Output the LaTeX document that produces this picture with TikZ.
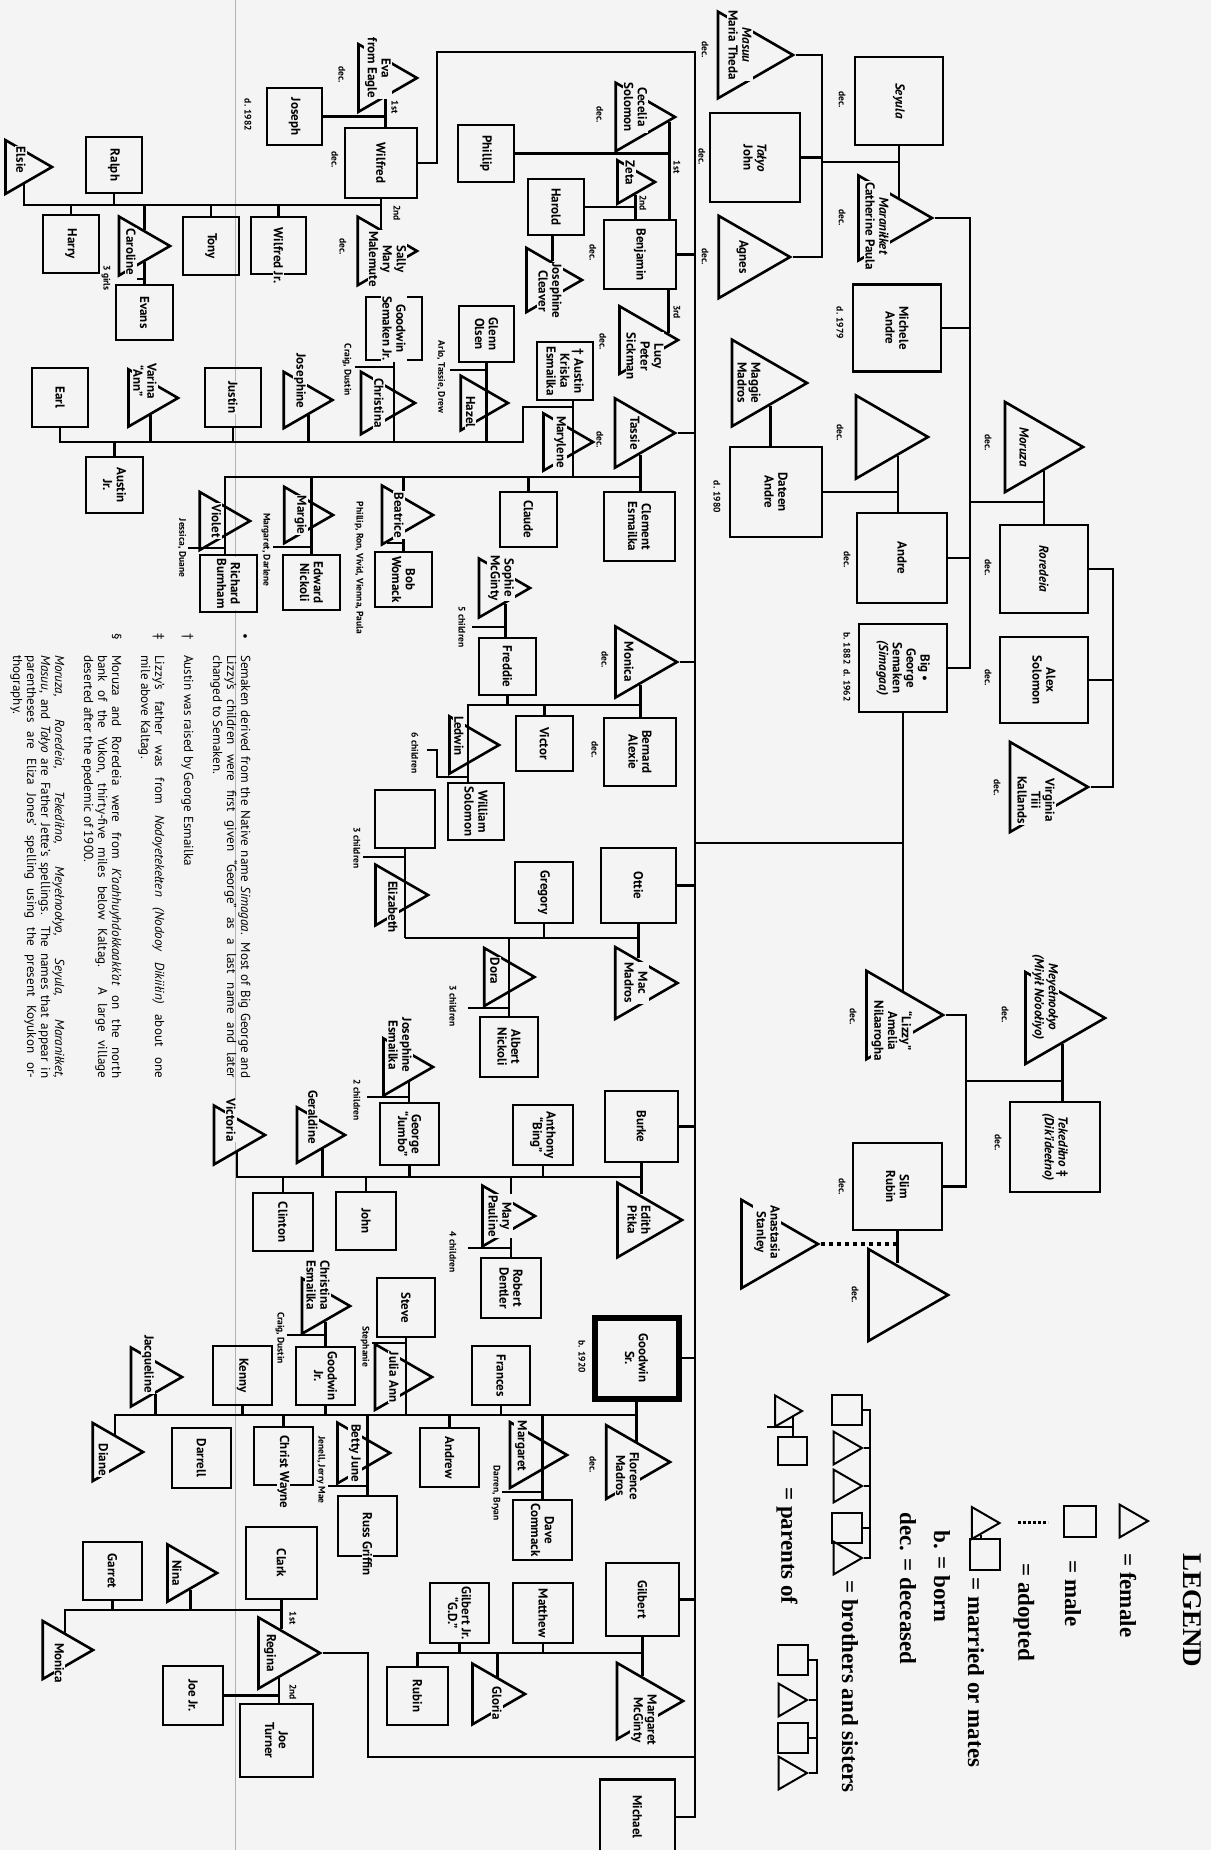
\documentclass[tikz,border=0pt]{standalone}
\usepackage{fontspec}
\setmainfont{PT Sans}
\newfontfamily\legserif{Liberation Serif}
\usetikzlibrary{shapes.geometric}
\pgfdeclarelayer{back}
\pgfsetlayers{back,main}
\definecolor{paper}{gray}{0.955}
\newcommand\namefont{\fontsize{13}{13.8}\selectfont\bfseries}
\newcommand\notefont{\fontsize{9.5}{11}\selectfont\bfseries}
\newcommand\footfont{\fontsize{13.1}{14}\selectfont}
\newcommand\legfont{\legserif\fontsize{23}{26}\selectfont\bfseries}
\begin{document}
\begin{tikzpicture}
[x=1pt,y=-1pt,%
  every node/.style={inner sep=0pt},%
  mal/.style={draw,rectangle,line width=2.6pt},%
  fem/.style={draw,regular polygon,regular polygon sides=3,shape border rotate=-90,line width=2.6pt},%
  nm/.style={rotate=-90,align=center,font=\namefont,fill=paper,inner sep=1pt},%
  note/.style={rotate=-90,align=center,font=\notefont},%
  foot/.style={rotate=-90,font=\footfont},%
  leg/.style={rotate=-90,font=\legfont,anchor=west},%
  tie/.style={line width=2.6pt},%
  adopt/.style={line width=4pt,dash pattern=on 4pt off 4pt}]
\useasboundingbox (0,0) rectangle (1211,1850);
% Moruza, Roredeia and their kin
\node[fem,minimum size=104pt,label={[xshift=-7pt,nm]center:\textit{Moruza}}] (moruza) at (1031,447) {};
\node[mal,minimum width=88pt,minimum height=88pt,label={[nm]center:\textit{Roredeia}}] (roredeia) at (1044,569) {};
\node[mal,minimum width=88pt,minimum height=86pt,label={[nm]center:Alex\\Solomon}] (alex) at (1044,680) {};
\node[fem,minimum size=104pt,label={[yshift=-13pt,nm]center:Virginia\\Tiii\\Kallands}] (virginia) at (1036,787) {};
\node[fem,minimum size=106pt,label={[xshift=-7pt,yshift=21pt,nm]center:\textit{Meyełnoołyo}\\\textit{(Miyił No'oołiyo)}}] (meyel) at (1052,1018) {};
\node[mal,minimum width=90pt,minimum height=90pt,label={[nm]center:\textit{Tekediłno} ‡\\\textit{(Dik'ideełno)}}] (tekedilno) at (1055,1147) {};
\node[mal,minimum width=88pt,minimum height=88pt,label={[nm]center:\textit{Seyula}}] (seyula) at (899,101) {};
\node[fem,minimum size=98pt,label={[xshift=-6pt,yshift=-8pt,nm]center:\textit{Maraniłket}\\Catherine Paula}] (maranilket) at (883,218) {};
\node[mal,minimum width=88pt,minimum height=87pt,label={[nm]center:Michele\\Andre}] (michele) at (897,328) {};
\node[fem,minimum size=96pt] (wifeandre) at (880,437) {};
\node[mal,minimum width=90pt,minimum height=90pt,label={[nm]center:Andre}] (andre) at (902,558) {};
\node[mal,minimum width=88pt,minimum height=88pt,label={[nm]center:Big •\\George\\Semaken\\\textit{(Simagaa)}}] (biggeorge) at (903,668) {};
\node[fem,minimum size=102pt,label={[yshift=-16pt,nm]center:``Lizzy''\\Amelia\\Nilaarogha}] (lizzy) at (892,1015) {};
\node[mal,minimum width=89pt,minimum height=87pt,label={[nm]center:Slim\\Rubin}] (slim) at (897.5,1186.5) {};
\node[fem,minimum size=106pt] (wifeslim) at (895,1295) {};
\node[fem,minimum size=102pt,label={[yshift=12pt,nm]center:Anastasia\\Stanley}] (anastasia) at (767,1244) {};
\node[fem,minimum size=100pt,label={[xshift=-3pt,yshift=10pt,nm]center:\textit{Masuu}\\Maria Theda}] (masuu) at (743,55) {};
\node[mal,minimum width=90pt,minimum height=89pt,label={[nm]center:\textit{Tałyo}\\John}] (talyo) at (755,157.5) {};
\node[fem,minimum size=95pt,label={[nm]center:Agnes}] (agnes) at (742.5,257) {};
\node[fem,minimum size=100pt,label={[xshift=-8pt,nm]center:Maggie\\Madros}] (maggie) at (757,383) {};
\node[mal,minimum width=92pt,minimum height=90pt,label={[nm]center:Dateen\\Andre}] (dateen) at (776,492) {};
% Wilfred
\node[mal,minimum width=72pt,minimum height=70pt,label={[nm]center:Wilfred}] (wilfred) at (381,163) {};
\node[fem,minimum size=78pt,label={[yshift=10pt,nm]center:Eva\\from Eagle}] (eva) at (378,78) {};
\node[mal,minimum width=55pt,minimum height=57pt,label={[nm]center:Joseph}] (joseph) at (294.5,116.5) {};
\node[fem,minimum size=79pt,label={[xshift=10pt,yshift=-8pt,nm]center:Sally\\Mary\\Malemute}] (sally) at (377.5,251) {};
\node[fem,minimum size=62pt,label={[yshift=7pt,nm]center:Elsie}] (elsie) at (21,167) {};
\node[mal,minimum width=56pt,minimum height=56pt,label={[nm]center:Ralph}] (ralph) at (114,165) {};
\node[mal,minimum width=56pt,minimum height=58pt,label={[nm]center:Harry}] (harry) at (71,244) {};
\node[fem,minimum size=68pt,label={[xshift=-5pt,yshift=-6pt,nm]center:Caroline}] (caroline) at (136,246) {};
\node[mal,minimum width=57pt,minimum height=55pt,label={[nm]center:Evans}] (evans) at (144.5,312.5) {};
\node[mal,minimum width=56pt,minimum height=58pt,label={[nm]center:Tony}] (tony) at (211,246) {};
\node[mal,minimum width=55pt,minimum height=57pt,label={[yshift=-10pt,nm]center:Wilfred Jr.}] (wilfredjr) at (278.5,245.5) {};
\node[mal,minimum width=56pt,minimum height=63pt,label={[nm]center:Goodwin\\Semaken Jr.}] (goodwinsj) at (394,328.5) {};
\node[fem,minimum size=72pt,label={[nm]center:Christina}] (christina) at (379,403) {};
\node[mal,minimum width=56pt,minimum height=59pt,label={[nm]center:Earl}] (earl) at (60,397.5) {};
\node[mal,minimum width=57pt,minimum height=56pt,label={[nm]center:Austin\\Jr.}] (austinjr) at (114.5,485) {};
\node[fem,minimum size=66pt,label={[yshift=17pt,nm]center:Varina\\``Ann''}] (varina) at (145,398) {};
\node[mal,minimum width=56pt,minimum height=59pt,label={[nm]center:Justin}] (justin) at (233,397.5) {};
\node[fem,minimum size=65pt,label={[yshift=19pt,nm]center:Josephine}] (josephine) at (300,400) {};
% Benjamin
\node[mal,minimum width=72pt,minimum height=69pt,label={[nm]center:Benjamin}] (benjamin) at (640,254.5) {};
\node[fem,minimum size=79pt,label={[yshift=10pt,nm]center:Cecelia\\Solomon}] (cecelia) at (635.5,117) {};
\node[fem,minimum size=50pt,label={[yshift=9pt,nm]center:Zeta}] (zeta) at (630,182) {};
\node[fem,minimum size=78pt,label={[xshift=6pt,yshift=-16pt,nm]center:Lucy\\Peter\\Sickman}] (lucy) at (639,340) {};
\node[mal,minimum width=56pt,minimum height=57pt,label={[nm]center:Phillip}] (phillip) at (486,153.5) {};
\node[mal,minimum width=56pt,minimum height=56pt,label={[nm]center:Harold}] (harold) at (556,207) {};
\node[fem,minimum size=74pt,label={[xshift=5pt,yshift=-11pt,nm]center:Josephine\\Cleaver}] (jcleaver) at (545,280) {};
% Tassie
\node[fem,minimum size=80pt,label={[nm]center:Tassie}] (tassie) at (635,433) {};
\node[mal,minimum width=71pt,minimum height=69pt,label={[nm]center:Clement\\Esmailka}] (clement) at (639.5,526.5) {};
\node[mal,minimum width=56pt,minimum height=58pt,label={[nm]center:† Austin\\Kriska\\Esmailka}] (austin) at (565,371) {};
\node[fem,minimum size=66pt,label={[nm]center:Marylene}] (marylene) at (560,442) {};
\node[mal,minimum width=55pt,minimum height=56pt,label={[nm]center:Glenn\\Olsen}] (glenn) at (486.5,334) {};
\node[fem,minimum size=63pt,label={[xshift=-6pt,yshift=-9pt,nm]center:Hazel}] (hazel) at (476.5,403) {};
\node[mal,minimum width=57pt,minimum height=55pt,label={[nm]center:Claude}] (claude) at (528.5,519.5) {};
\node[fem,minimum size=68pt,label={[nm]center:Beatrice}] (beatrice) at (399,515) {};
\node[mal,minimum width=57pt,minimum height=55pt,label={[nm]center:Bob\\Womack}] (bob) at (403.5,579.5) {};
\node[fem,minimum size=65pt,label={[nm]center:Margie}] (margie) at (300.5,515) {};
\node[mal,minimum width=57pt,minimum height=55pt,label={[nm]center:Edward\\Nickoli}] (edward) at (311.5,582.5) {};
\node[fem,minimum size=67pt,label={[nm]center:Violet}] (violet) at (216.5,521) {};
\node[mal,minimum width=57pt,minimum height=57pt,label={[nm]center:Richard\\Burnham}] (richard) at (228.5,583.5) {};
% Monica
\node[fem,minimum size=82pt,label={[xshift=-7pt,nm]center:Monica}] (monica) at (636,662) {};
\node[mal,minimum width=72pt,minimum height=68pt,label={[nm]center:Bernard\\Alexie}] (bernard) at (640,752) {};
\node[fem,minimum size=68pt,label={[xshift=5pt,yshift=10pt,nm]center:Sophie\\McGinty}] (sophie) at (496,588) {};
\node[mal,minimum width=57pt,minimum height=57pt,label={[nm]center:Freddie}] (freddie) at (507.5,666.5) {};
\node[mal,minimum width=57pt,minimum height=55pt,label={[nm]center:Victor}] (victor) at (544.5,743.5) {};
\node[fem,minimum size=66pt,label={[xshift=-7pt,yshift=9pt,nm]center:Ledwin}] (ledwin) at (466,745) {};
\node[mal,minimum width=56pt,minimum height=57pt,label={[nm]center:William\\Solomon}] (william) at (476,811.5) {};
% Ottie
\node[mal,minimum width=75pt,minimum height=75pt,label={[nm]center:Ottie}] (ottie) at (638.5,885.5) {};
\node[fem,minimum size=83pt,label={[nm]center:Mac\\Madros}] (mac) at (636,983) {};
\node[mal,minimum width=58pt,minimum height=61pt,label={[nm]center:Gregory}] (gregory) at (544,892.5) {};
\node[mal,minimum width=60pt,minimum height=58pt] (elizhusband) at (405,819) {};
\node[fem,minimum size=70pt,label={[yshift=-12pt,nm]center:Elizabeth}] (elizabeth) at (393,895) {};
\node[fem,minimum size=67pt,label={[xshift=-6pt,yshift=6pt,nm]center:Dora}] (dora) at (501,977) {};
\node[mal,minimum width=58pt,minimum height=60pt,label={[nm]center:Albert\\Nickoli}] (albert) at (509,1047) {};
% Burke
\node[mal,minimum width=73pt,minimum height=71pt,label={[nm]center:Burke}] (burke) at (641.5,1126.5) {};
\node[fem,minimum size=86pt,label={[nm]center:Edith\\Pitka}] (edith) at (639,1220) {};
\node[mal,minimum width=60pt,minimum height=60pt,label={[nm]center:Anthony\\``Bing''}] (anthony) at (543,1135) {};
\node[fem,minimum size=66pt,label={[yshift=22pt,nm]center:Josephine\\Esmailka}] (jesmailka) at (400,1067) {};
\node[mal,minimum width=59pt,minimum height=62pt,label={[nm]center:George\\``Jumbo''}] (george) at (409.5,1134) {};
\node[fem,minimum size=70pt,label={[nm]center:Mary\\Pauline}] (marypauline) at (500,1216) {};
\node[mal,minimum width=60pt,minimum height=60pt,label={[nm]center:Robert\\Dentler}] (robert) at (511,1288) {};
\node[mal,minimum width=60pt,minimum height=58pt,label={[nm]center:John}] (john) at (366,1221) {};
\node[mal,minimum width=60pt,minimum height=58pt,label={[nm]center:Clinton}] (clinton) at (283,1222) {};
\node[fem,minimum size=64pt,label={[yshift=18pt,nm]center:Geraldine}] (geraldine) at (313,1135) {};
\node[fem,minimum size=68pt,label={[yshift=15pt,nm]center:Victoria}] (victoria) at (231,1135) {};
% Goodwin Sr.
\node[mal,line width=6pt,minimum width=84pt,minimum height=81pt,label={[nm]center:Goodwin\\Sr.}] (goodwinsr) at (636.5,1358) {};
\node[fem,minimum size=85pt,label={[yshift=-14pt,nm]center:Florence\\Madros}] (florence) at (627.5,1462) {};
\node[mal,minimum width=58pt,minimum height=59pt,label={[nm]center:Frances}] (frances) at (501,1375.5) {};
\node[mal,minimum width=59pt,minimum height=59pt,label={[nm]center:Andrew}] (andrew) at (449.5,1457.5) {};
\node[fem,minimum size=76pt,label={[xshift=-8pt,yshift=9pt,nm]center:Margaret}] (margaret) at (529,1455) {};
\node[mal,minimum width=59pt,minimum height=60pt,label={[nm]center:Dave\\Commack}] (dave) at (542.5,1530) {};
\node[mal,minimum width=58pt,minimum height=59pt,label={[nm]center:Steve}] (steve) at (406,1307.5) {};
\node[fem,minimum size=76pt,label={[nm]center:Julia Ann}] (julia) at (394,1377) {};
\node[mal,minimum width=59pt,minimum height=58pt,label={[nm]center:Goodwin\\Jr.}] (goodwinjr) at (325.5,1376) {};
\node[fem,minimum size=64pt,label={[yshift=21pt,nm]center:Christina\\Esmailka}] (christinae) at (318,1306) {};
\node[mal,minimum width=59pt,minimum height=59pt,label={[nm]center:Kenny}] (kenny) at (242.5,1375.5) {};
\node[fem,minimum size=68pt,label={[yshift=13pt,nm]center:Jacqueline}] (jacqueline) at (148,1377) {};
\node[fem,minimum size=67pt,label={[xshift=-6pt,yshift=-8pt,nm]center:Diane}] (diane) at (109.5,1452) {};
\node[mal,minimum width=59pt,minimum height=60pt,label={[nm]center:Darrell}] (darrell) at (201.5,1458) {};
\node[mal,minimum width=59pt,minimum height=58pt,label={[yshift=-16pt,nm]center:Christ Wayne}] (christwayne) at (283.5,1456) {};
\node[fem,minimum size=70pt,label={[nm]center:Betty June}] (betty) at (355,1453) {};
\node[mal,minimum width=59pt,minimum height=60pt,label={[yshift=-18pt,nm]center:Russ Griffin}] (russ) at (367.5,1526) {};
% Regina
\node[fem,minimum size=82pt,label={[xshift=-9pt,nm]center:Regina}] (regina) at (279,1653) {};
\node[mal,minimum width=71pt,minimum height=72pt,label={[nm]center:Clark}] (clark) at (281.5,1563) {};
\node[mal,minimum width=59pt,minimum height=58pt,label={[nm]center:Garret}] (garret) at (112.5,1571) {};
\node[fem,minimum size=66pt,label={[xshift=-7pt,nm]center:Nina}] (nina) at (184,1573) {};
\node[fem,minimum size=67pt,label={[yshift=-13pt,nm]center:Monica}] (monicab) at (59.5,1650) {};
\node[mal,minimum width=60pt,minimum height=59pt,label={[nm]center:Joe Jr.}] (joejr) at (193,1695.5) {};
\node[mal,minimum width=73pt,minimum height=73pt,label={[nm]center:Joe\\Turner}] (joeturner) at (276.5,1740.5) {};
% Gilbert and Michael
\node[mal,minimum width=73pt,minimum height=73pt,label={[nm]center:Gilbert}] (gilbert) at (642.5,1599.5) {};
\node[fem,minimum size=88pt,label={[xshift=5pt,yshift=-19pt,nm]center:Margaret\\McGinty}] (mmcginty) at (639,1701) {};
\node[mal,minimum width=60pt,minimum height=60pt,label={[nm]center:Matthew}] (matthew) at (543,1613) {};
\node[mal,minimum width=59pt,minimum height=60pt,label={[nm]center:Gilbert Jr.\\``G.D.''}] (gilbertjr) at (459.5,1613) {};
\node[fem,minimum size=70pt,label={[xshift=7pt,yshift=-9pt,nm]center:Gloria}] (gloria) at (490,1694) {};
\node[mal,minimum width=61pt,minimum height=58pt,label={[nm]center:Rubin}] (rubin) at (417.5,1696) {};
\node[mal,minimum width=75pt,minimum height=75pt,label={[nm]center:Michael}] (michael) at (637.5,1817) {};
% side notes
\node[note] (decmoruza) at (988,443) {dec.};
\node[note] (decroredeia) at (988,568) {dec.};
\node[note] (decalex) at (988,678) {dec.};
\node[note] (decvirginia) at (997,788) {dec.};
\node[note] (decmeyel) at (1005,1015) {dec.};
\node[note] (dectekedilno) at (998,1143) {dec.};
\node[note] (decseyula) at (842,100) {dec.};
\node[note] (decmaranilket) at (842,218) {dec.};
\node[note] (dmichele) at (840,323) {d. 1979};
\node[note] (decwifeandre) at (840,433) {dec.};
\node[note] (decandre) at (847,560) {dec.};
\node[note] (bgdates) at (847,667) {b. 1882~~d. 1962};
\node[note] (declizzy) at (853,1017) {dec.};
\node[note] (decslim) at (842,1187) {dec.};
\node[note] (decwifeslim) at (855,1295) {dec.};
\node[note] (decmasuu) at (705,50) {dec.};
\node[note] (dectalyo) at (702,157) {dec.};
\node[note] (decagnes) at (705,257) {dec.};
\node[note] (ddateen) at (717,497) {d. 1980};
\node[note] (deceva) at (342,75) {dec.};
\node[note] (decwilfred) at (335,160) {dec.};
\node[note] (djoseph) at (248,115) {d. 1982};
\node[note] (decsally) at (343,247) {dec.};
\node[note] (firsteva) at (395,107) {1st};
\node[note] (secondsally) at (397,213) {2nd};
\node[note] (threegirls) at (106,278) {3 girls};
\node[note] (craigone) at (347,370) {Craig, Dustin};
\node[note] (arlo) at (441,377) {Arlo, Tassie, Drew};
\node[note] (deccecelia) at (600,115) {dec.};
\node[note] (firstcecelia) at (677,167) {1st};
\node[note] (secondzeta) at (643,203) {2nd};
\node[note] (decbenjamin) at (593,253) {dec.};
\node[note] (thirdlucy) at (677,312) {3rd};
\node[note] (declucy) at (603,342) {dec.};
\node[note] (dectassie) at (600,440) {dec.};
\node[note] (phillipetc) at (359,568) {Phillip, Ron, Vivid, Vienna, Paula};
\node[note] (margaretetc) at (266,550) {Margaret, Darlene};
\node[note] (jessica) at (182,548) {Jessica, Duane};
\node[note] (fivekids) at (462,627) {5 children};
\node[note] (sixkids) at (415,753) {6 children};
\node[note] (decmonica) at (605,660) {dec.};
\node[note] (decbernard) at (595,750) {dec.};
\node[note] (threekidsa) at (357,848) {3 children};
\node[note] (threekidsb) at (453,1006) {3 children};
\node[note] (twokids) at (357,1100) {2 children};
\node[note] (fourkids) at (453,1252) {4 children};
\node[note] (stephanie) at (365,1347) {Stephanie};
\node[note] (craigtwo) at (280,1338) {Craig, Dustin};
\node[note] (jenell) at (321,1470) {Jenell, Jerry Mae};
\node[note] (darren) at (496,1493) {Darren, Bryan};
\node[note] (bgoodwin) at (582,1357) {b. 1920};
\node[note] (decflorence) at (593,1465) {dec.};
\node[note] (firstclark) at (293,1618) {1st};
\node[note] (secondjoe) at (293,1692) {2nd};
% footnotes
\node[foot,anchor=north west] (footnotes) at (251,633) {%
\begin{tabular}{@{}p{18pt}@{\hspace{4pt}}p{423pt}@{}}
•& Semaken derived from the Native name \textit{Simagaa}. Most of Big George and\linebreak
Lizzy's children were first given ``George'' as a last name and later\linebreak
changed to Semaken.\\[15pt]
†& Austin was raised by George Esmailka\\[15pt]
‡& Lizzy's father was from \textit{Nodoyetekełten (Nodooy Dikiiłin)} about one\linebreak
mile above Kaltag.\\[15pt]
§& Moruza and Roredeia were from \textit{K'aahhuyhdokkaakk'at} on the north\linebreak
bank of the Yukon, thirty-five miles below Kaltag. A large village\linebreak
deserted after the epedemic of 1900.\\[15pt]
& \textit{Moruza, Roredeia, Tekediłno, Meyełnoołyo, Seyula, Maraniłket,}\linebreak
\textit{Masuu}, and \textit{Tałyo} are Father Jette's spellings. The names that appear in\linebreak
parentheses are Eliza Jones' spelling using the present Koyukon or-\linebreak
thography.
\end{tabular}};
% legend
\node[leg,font=\legserif\fontsize{27}{30}\selectfont\bfseries,anchor=center] (legtitle) at (1192,1610) {LEGEND};
\node[fem,line width=2pt,minimum size=38pt] (legf) at (1129,1521) {};
\node[leg] (legfemale) at (1128,1553) {= female};
\node[mal,line width=2pt,minimum width=32pt,minimum height=31pt] (legm) at (1080,1521.5) {};
\node[leg] (legmale) at (1073,1560) {= male};
\coordinate (adoptA) at (1018,1522);
\coordinate (adoptB) at (1048,1522);
\node[leg] (legadopted) at (1024,1563) {= adopted};
\node[fem,line width=2pt,minimum size=37pt] (legmf) at (981,1523) {};
\node[mal,line width=2pt,minimum width=30pt,minimum height=31pt] (legmm) at (985,1554.5) {};
\node[leg] (legmarried) at (976,1577) {= married or mates};
\node[leg] (legborn) at (942,1530) {b. = born};
\node[leg] (legdec) at (908,1512) {dec. = deceased};
\node[mal,line width=2pt,minimum width=30pt,minimum height=30pt] (sib1) at (847,1410) {};
\node[fem,line width=2pt,minimum size=38pt] (sib2) at (843,1448) {};
\node[fem,line width=2pt,minimum size=38pt] (sib3) at (843,1486) {};
\node[mal,line width=2pt,minimum width=30pt,minimum height=30pt] (sib4) at (847,1528) {};
\node[fem,line width=2pt,minimum size=38pt] (sib5) at (843,1558) {};
\node[leg] (legsibs) at (850,1580) {= brothers and sisters};
\node[fem,line width=2pt,minimum size=36pt] (par1) at (784,1411) {};
\node[mal,line width=2pt,minimum width=29pt,minimum height=28pt] (par2) at (792.5,1451) {};
\node[leg] (legparents) at (787,1487) {= parents of};
\node[mal,line width=2pt,minimum width=30pt,minimum height=30pt] (kid1) at (793,1660) {};
\node[fem,line width=2pt,minimum size=38pt] (kid2) at (788,1700) {};
\node[mal,line width=2pt,minimum width=30pt,minimum height=30pt] (kid3) at (793,1738) {};
\node[fem,line width=2pt,minimum size=38pt] (kid4) at (788,1773) {};
% junctions
\coordinate (mrkids) at (970,502);
\coordinate (sibs) at (1113,570);
\coordinate (sykids) at (822,162);
\coordinate (trunktop) at (695,52);
\coordinate (trunkbot) at (695,1817);
\coordinate (bgkids) at (695,843);
\coordinate (wturn) at (437,52);
\coordinate (rturn) at (368,1757);
\coordinate (mtkids) at (966,1081);
\coordinate (wkids) at (24,205);
\coordinate (girls) at (137,279);
\coordinate (tkids) at (225,477);
\coordinate (violetkids) at (188,548);
\coordinate (margiekids) at (273,547);
\coordinate (beatricekids) at (387,543);
\coordinate (austinjoin) at (573,407);
\coordinate (akids) at (523,442);
\coordinate (christinakids) at (355,367);
\coordinate (hazelkids) at (450,370);
\coordinate (mokids) at (468,705);
\coordinate (sophiekids) at (472,627);
\coordinate (ledwinkids) at (437,777);
\coordinate (ledwinkidsend) at (427,750);
\coordinate (okids) at (405,938);
\coordinate (elizkids) at (363,857);
\coordinate (dorakids) at (468,1008);
\coordinate (bkids) at (237,1177);
\coordinate (georgekids) at (367,1097);
\coordinate (marykids) at (468,1248);
\coordinate (gkids) at (115,1415);
\coordinate (margaretkids) at (502,1492);
\coordinate (juliakids) at (372,1343);
\coordinate (goodwinkids) at (287,1335);
\coordinate (bettykids) at (328,1486);
\coordinate (ckids) at (65,1610);
\coordinate (gikids) at (417.5,1653);
\coordinate (sibbar) at (870,1410);
\coordinate (parkids) at (767,1427);
\coordinate (kidbar) at (817,1660);
\begin{pgfonlayer}{back}
\fill[paper] (0,0) rectangle (1211,1850);
\draw[black!30,line width=.8pt] (235,0) -- (235,1850);
% top generations
\draw[tie] (roredeia.north |- moruza.-60) -- (roredeia.north);
\draw[tie] (roredeia.north |- mrkids) -- (mrkids);
\draw[tie] (maranilket.east) -| (mrkids |- biggeorge.east) -- (biggeorge.east);
\draw[tie] (michele.east) -- (michele.east -| mrkids);
\draw[tie] (andre.east) -- (andre.east -| mrkids);
\draw[tie] (roredeia.east) -| (sibs |- virginia.east) -- (virginia.east);
\draw[tie] (alex.east) -- (alex.east -| sibs);
\draw[tie] (seyula.south) -- (seyula.south |- maranilket.50);
\draw[tie] (seyula.south |- sykids) -- (sykids);
\draw[tie] (masuu.east) -| (sykids |- agnes.east) -- (agnes.east);
\draw[tie] (talyo.east) -- (talyo.east -| sykids);
\draw[tie] (wifeandre.-46) -- (wifeandre.-46 |- andre.north);
\draw[tie] (wifeandre.-46 |- dateen.east) -- (dateen.east);
\draw[tie] (maggie.-59) -- (maggie.-59 |- dateen.north);
\draw[tie] (biggeorge.south) -- (biggeorge.south |- lizzy.64);
\draw[tie] (biggeorge.south |- bgkids) -- (bgkids);
\draw[tie] (meyel.-68) -- (meyel.-68 |- tekedilno.north);
\draw[tie] (meyel.-68 |- mtkids) -- (mtkids);
\draw[tie] (lizzy.east) -| (mtkids |- slim.east) -- (slim.east);
\draw[tie] (slim.south) -- (slim.south |- wifeslim.north);
\draw[adopt] (anastasia.east) -- (anastasia.east -| slim.south);
% the Semaken children
\draw[tie] (wilfred.east) -| (wturn) -- (trunktop) -- (trunkbot) -- (michael.east);
\draw[tie] (benjamin.east) -- (benjamin.east -| trunktop);
\draw[tie] (tassie.east) -- (tassie.east -| trunktop);
\draw[tie] (monica.east) -- (monica.east -| trunktop);
\draw[tie] (ottie.east) -- (ottie.east -| trunktop);
\draw[tie] (burke.east) -- (burke.east -| trunktop);
\draw[tie] (goodwinsr.east) -- (goodwinsr.east -| trunktop);
\draw[tie] (gilbert.east) -- (gilbert.east -| trunktop);
\draw[tie] (regina.east) -| (rturn) -- (rturn -| trunktop);
% Wilfred
\draw[tie] (eva.-69) -- (eva.-69 |- wilfred.north);
\draw[tie] (eva.-69 |- joseph.east) -- (joseph.east);
\draw[tie] (wilfred.south) -- (wilfred.south |- sally.80);
\draw[tie] (wilfred.south |- wkids) -- (wkids) -- (wkids |- elsie.-79);
\draw[tie] (ralph.south) -- (ralph.south |- wkids);
\draw[tie] (harry.north) -- (harry.north |- wkids);
\draw[tie] (caroline.62) -- (caroline.62 |- wkids);
\draw[tie] (tony.north) -- (tony.north |- wkids);
\draw[tie] (wilfredjr.north) -- (wilfredjr.north |- wkids);
\draw[tie] (caroline.-62) -- (caroline.-62 |- evans.north);
\draw[tie] (girls) -- (girls -| caroline.-62);
% Benjamin
\draw[tie] (cecelia.-8) -- (cecelia.-8 |- benjamin.north);
\draw[tie] (phillip.east) -- (phillip.east -| cecelia.-8);
\draw[tie] (zeta.-66) -- (zeta.-66 |- benjamin.north);
\draw[tie] (harold.east) -- (harold.east -| zeta.-66);
\draw[tie] (benjamin.south -| lucy.13) -- (lucy.13);
\draw[tie] (jcleaver.68 |- harold.south) -- (jcleaver.68);
% Tassie
\draw[tie] (tassie.-76) -- (tassie.-76 |- clement.north);
\draw[tie] (tassie.-76 |- tkids) -- (tkids) -- (tkids |- richard.north);
\draw[tie] (violetkids) -- (violetkids -| tkids);
\draw[tie] (claude.north) -- (claude.north |- tkids);
\draw[tie] (edward.north |- tkids) -- (edward.north);
\draw[tie] (margiekids) -- (margiekids -| edward.north);
\draw[tie] (bob.north |- tkids) -- (bob.north);
\draw[tie] (beatricekids) -- (beatricekids -| bob.north);
\draw[tie] (austin.south -| austinjoin) -- (austinjoin |- tkids);
\draw[tie] (austinjoin) -| (akids) -- (akids -| earl.south) -- (earl.south);
\draw[tie] (austinjr.north) -- (austinjr.north |- akids);
\draw[tie] (varina.-73) -- (varina.-73 |- akids);
\draw[tie] (justin.south) -- (justin.south |- akids);
\draw[tie] (josephine.-60) -- (josephine.-60 |- akids);
\draw[tie] (goodwinsj.south) -- (goodwinsj.south |- akids);
\draw[tie] (christinakids) -- (christinakids -| goodwinsj.south);
\draw[tie] (glenn.south) -- (glenn.south |- akids);
\draw[tie] (hazelkids) -- (hazelkids -| glenn.south);
% Monica
\draw[tie] (monica.-79) -- (monica.-79 |- bernard.north);
\draw[tie] (monica.-79 |- mokids) -- (mokids) -- (mokids |- william.north);
\draw[tie] (freddie.south) -- (freddie.south |- mokids);
\draw[tie] (victor.north) -- (victor.north |- mokids);
\draw[tie] (sophie.-58) -- (sophie.-58 |- freddie.north);
\draw[tie] (sophiekids) -- (sophiekids -| sophie.-58);
\draw[tie] (ledwinkids -| mokids) -- (ledwinkids) |- (ledwinkidsend);
% Ottie
\draw[tie] (ottie.south) -- (ottie.south |- mac.north);
\draw[tie] (ottie.south |- okids) -- (okids);
\draw[tie] (elizhusband.south) -- (okids);
\draw[tie] (elizkids) -- (elizkids -| elizhusband.south);
\draw[tie] (gregory.south) -- (gregory.south |- okids);
\draw[tie] (albert.north |- okids) -- (albert.north);
\draw[tie] (dorakids) -- (dorakids -| albert.north);
% Burke
\draw[tie] (burke.south) -- (burke.south |- edith.north);
\draw[tie] (burke.south |- bkids) -- (bkids) -- (bkids |- victoria.-70);
\draw[tie] (anthony.south) -- (anthony.south |- bkids);
\draw[tie] (george.south) -- (george.south |- bkids);
\draw[tie] (jesmailka.-59) -- (jesmailka.-59 |- george.north);
\draw[tie] (georgekids) -- (georgekids -| jesmailka.-59);
\draw[tie] (robert.north |- bkids) -- (robert.north);
\draw[tie] (marykids) -- (marykids -| robert.north);
\draw[tie] (john.north) -- (john.north |- bkids);
\draw[tie] (clinton.north) -- (clinton.north |- bkids);
\draw[tie] (geraldine.-56) -- (geraldine.-56 |- bkids);
% Goodwin Sr.
\draw[tie] (goodwinsr.south) -- (goodwinsr.south |- florence.65);
\draw[tie] (goodwinsr.south |- gkids) -- (gkids) -- (gkids |- diane.71);
\draw[tie] (frances.south) -- (frances.south |- gkids);
\draw[tie] (andrew.north) -- (andrew.north |- gkids);
\draw[tie] (dave.north |- gkids) -- (dave.north);
\draw[tie] (margaretkids) -- (margaretkids -| dave.north);
\draw[tie] (steve.south) -- (steve.south |- gkids);
\draw[tie] (juliakids) -- (juliakids -| steve.south);
\draw[tie] (christinae.-64) -- (christinae.-64 |- goodwinjr.north);
\draw[tie] (goodwinjr.south) -- (goodwinjr.south |- gkids);
\draw[tie] (goodwinkids) -- (goodwinkids -| christinae.-64);
\draw[tie] (kenny.south) -- (kenny.south |- gkids);
\draw[tie] (jacqueline.-66) -- (jacqueline.-66 |- gkids);
\draw[tie] (christwayne.north) -- (christwayne.north |- gkids);
\draw[tie] (russ.north |- gkids) -- (russ.north);
\draw[tie] (bettykids) -- (bettykids -| russ.north);
% Regina
\draw[tie] (clark.south) -- (clark.south |- regina.85);
\draw[tie] (clark.south |- ckids) -- (ckids) -- (ckids |- monicab.71);
\draw[tie] (garret.south) -- (garret.south |- ckids);
\draw[tie] (nina.-69) -- (nina.-69 |- ckids);
\draw[tie] (regina.south) -- (regina.south |- joeturner.north);
\draw[tie] (regina.south |- joejr.east) -- (joejr.east);
% Gilbert
\draw[tie] (gilbert.south) -- (gilbert.south |- mmcginty.81);
\draw[tie] (gilbert.south |- gikids) -- (gikids) -- (rubin.north);
\draw[tie] (matthew.south) -- (matthew.south |- gikids);
\draw[tie] (gilbertjr.south) -- (gilbertjr.south |- gikids);
\draw[tie] (gloria.67) -- (gloria.67 |- gikids);
% legend
\draw[adopt,line width=3pt,dash pattern=on 2.5pt off 2.5pt] (adoptA) -- (adoptB);
\draw[tie,line width=2pt] (legmf.south) -- (legmf.south |- legmm.north);
\draw[tie,line width=2pt] (sib1.east) -| (sibbar |- sib5.east) -- (sib5.east);
\draw[tie,line width=2pt] (sib2.east) -- (sib2.east -| sibbar);
\draw[tie,line width=2pt] (sib3.east) -- (sib3.east -| sibbar);
\draw[tie,line width=2pt] (sib4.east) -- (sib4.east -| sibbar);
\draw[tie,line width=2pt] (par1.-33) -- (par1.-33 |- par2.north);
\draw[tie,line width=2pt] (parkids) -- (parkids -| par1.-33);
\draw[tie,line width=2pt] (kid1.east) -| (kidbar |- kid4.east) -- (kid4.east);
\draw[tie,line width=2pt] (kid2.east) -- (kid2.east -| kidbar);
\draw[tie,line width=2pt] (kid3.east) -- (kid3.east -| kidbar);
\end{pgfonlayer}
\end{tikzpicture}
\end{document}
